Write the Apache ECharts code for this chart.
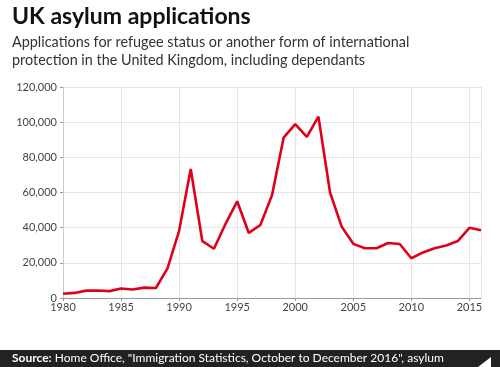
<!DOCTYPE html>
<html><head><meta charset="utf-8">
<script src="https://cdn.jsdelivr.net/npm/echarts@6/dist/echarts.min.js"></script>
<style>html,body{margin:0;padding:0;background:#fff}#c{width:500px;height:367px}</style>
</head><body><div id="c"></div>
<script>
const years = [1980,1981,1982,1983,1984,1985,1986,1987,1988,1989,1990,1991,1992,1993,1994,1995,1996,1997,1998,1999,2000,2001,2002,2003,2004,2005,2006,2007,2008,2009,2010,2011,2012,2013,2014,2015,2016];
const applications = [2400,2900,4200,4300,3900,5400,4800,5900,5700,16800,38200,73400,32300,28000,42200,55000,37000,41500,58500,91200,98900,91600,103100,60000,40600,30800,28300,28300,31300,30700,22600,25900,28300,29900,32400,39900,38500];
const yTicks = [0,20000,40000,60000,80000,100000,120000];
const titleText = 'UK asylum applications';
const subtitleText = 'Applications for refugee status or another form of international\nprotection in the United Kingdom, including dependants';
const sourceLabel = 'Source:';
const sourceText = ' Home Office, "Immigration Statistics, October to December 2016", asylum';

const chart = echarts.init(document.getElementById('c'));
const font = 'Lato, "Open Sans", sans-serif';
chart.setOption({
  animation:false,
  backgroundColor:'#fff',
  grid:{left:63,right:19,top:87,bottom:69},
  xAxis:{type:'value',min:1980,max:2016,interval:5,
    axisLine:{show:true,lineStyle:{color:'#999'}},
    axisTick:{show:true,length:3,lineStyle:{color:'#999'}},
    splitLine:{show:true,lineStyle:{color:'#e6e6e6'}},
    axisLabel:{color:'#444',fontSize:11,fontFamily:font,margin:4,showMaxLabel:false,formatter:v=>String(v)}},
  yAxis:{type:'value',min:yTicks[0],max:yTicks[yTicks.length-1],interval:20000,
    axisLine:{show:true,lineStyle:{color:'#ccc'}},
    axisTick:{show:true,length:3,lineStyle:{color:'#999'}},
    splitLine:{show:true,lineStyle:{color:'#e6e6e6'}},
    axisLabel:{color:'#444',fontSize:11,fontFamily:font,margin:6,formatter:v=>v.toLocaleString('en-GB')}},
  series:[{type:'line',data:years.map((y,i)=>[y,applications[i]]),showSymbol:false,
    lineStyle:{color:'#e0001b',width:2.6},itemStyle:{color:'#e0001b'}}],
  graphic:[
    {type:'text',left:12,top:5,style:{text:titleText,font:'bold 23px '+font,fill:'#111'}},
    {type:'text',left:12,top:34,style:{text:subtitleText,font:'14.4px '+font,fill:'#333',lineHeight:17.5}},
    {type:'rect',left:0,top:350,shape:{width:500,height:17},style:{fill:'#222'}},
    {type:'text',left:12,top:352,style:{rich:{b:{font:'bold 12px '+font,fill:'#fff'},n:{font:'12px '+font,fill:'#fff'}},text:'{b|'+sourceLabel+'}{n|'+sourceText+'}'}},
    {type:'polygon',shape:{points:[[478,367],[491,357],[491,367]]},style:{fill:'#fff'}}
  ]
});
</script></body></html>
